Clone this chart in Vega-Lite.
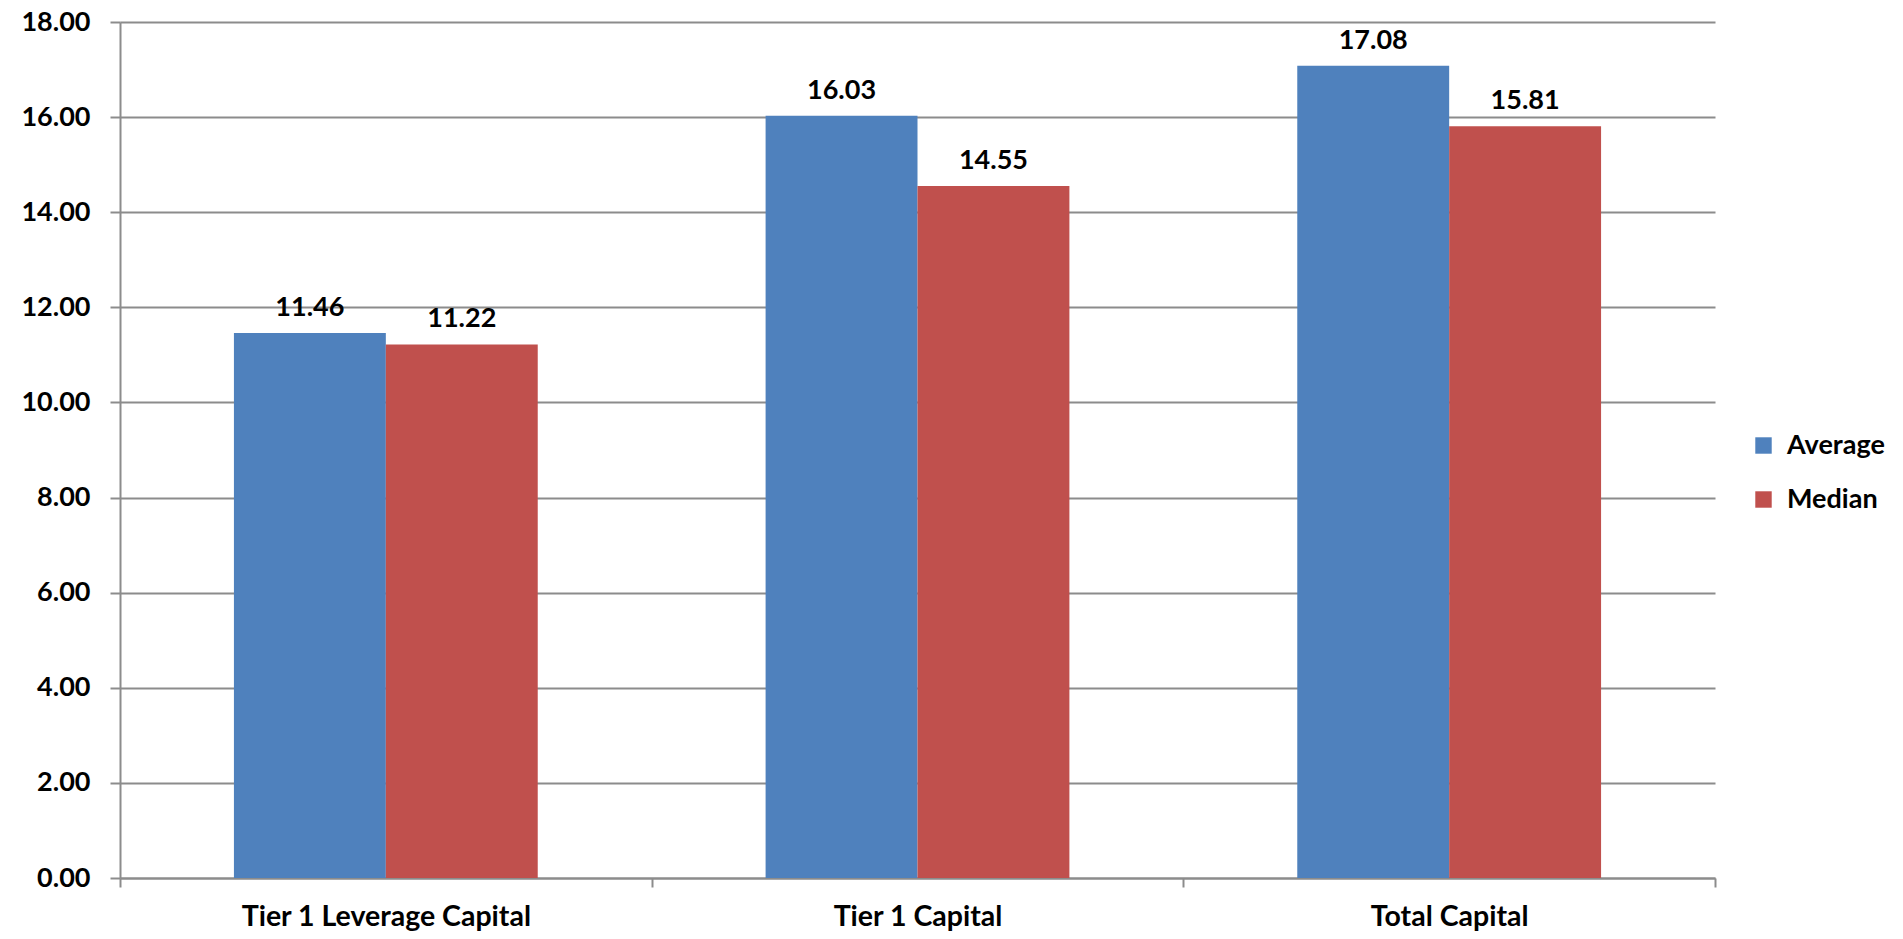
{
  "$schema": "https://vega.github.io/schema/vega-lite/v6.json",
  "width": 1595,
  "height": 856,
  "autosize": {"type": "none"},
  "padding": {"left": 120, "top": 22, "right": 188, "bottom": 61},
  "background": "white",
  "data": {
    "values": [
      {"category": "Tier 1 Leverage Capital", "series": "Average", "value": 11.46},
      {"category": "Tier 1 Leverage Capital", "series": "Median", "value": 11.22},
      {"category": "Tier 1 Capital", "series": "Average", "value": 16.03},
      {"category": "Tier 1 Capital", "series": "Median", "value": 14.55},
      {"category": "Total Capital", "series": "Average", "value": 17.08},
      {"category": "Total Capital", "series": "Median", "value": 15.81}
    ]
  },
  "encoding": {
    "x": {
      "field": "category",
      "type": "nominal",
      "sort": ["Tier 1 Leverage Capital", "Tier 1 Capital", "Total Capital"],
      "scale": {"paddingInner": 0, "paddingOuter": 0},
      "axis": {
        "title": null,
        "labelAngle": 0,
        "labelLimit": 0,
        "tickBand": "extent",
        "grid": false,
        "domainColor": "#8c8c8c",
        "domainWidth": 2,
        "tickColor": "#8c8c8c",
        "tickWidth": 2,
        "tickSize": 9,
        "labelPadding": 15,
        "labelFont": "Lato",
        "labelFontWeight": "bold",
        "labelFontSize": 28.5,
        "labelColor": "#000000"
      }
    },
    "xOffset": {
      "field": "series",
      "sort": ["Average", "Median"],
      "scale": {"paddingInner": 0, "paddingOuter": 0.75}
    },
    "y": {
      "field": "value",
      "type": "quantitative",
      "scale": {"domain": [0, 18], "nice": false},
      "axis": {
        "title": null,
        "values": [0, 2, 4, 6, 8, 10, 12, 14, 16, 18],
        "format": ".2f",
        "grid": true,
        "gridColor": "#8c8c8c",
        "gridWidth": 2,
        "domainColor": "#8c8c8c",
        "domainWidth": 2,
        "tickColor": "#8c8c8c",
        "tickWidth": 2,
        "tickSize": 10,
        "labelPadding": 20,
        "labelFont": "Lato",
        "labelFontWeight": "bold",
        "labelFontSize": 27,
        "labelColor": "#000000"
      }
    }
  },
  "layer": [
    {
      "mark": {"type": "bar"},
      "encoding": {
        "color": {
          "field": "series",
          "type": "nominal",
          "scale": {"domain": ["Average", "Median"], "range": ["#4F81BD", "#C0504D"]},
          "legend": {
            "title": null,
            "orient": "none",
            "legendX": 1630,
            "legendY": 410,
            "symbolType": "square",
            "symbolSize": 270,
            "symbolStrokeWidth": 0,
            "rowPadding": 26,
            "labelFont": "Lato",
            "labelFontWeight": "bold",
            "labelFontSize": 27,
            "labelColor": "#000000",
            "labelOffset": 10
          }
        }
      }
    },
    {
      "mark": {
        "type": "text",
        "baseline": "alphabetic",
        "dy": -17,
        "font": "Lato",
        "fontWeight": "bold",
        "fontSize": 27,
        "color": "#000000"
      },
      "encoding": {
        "text": {"field": "value", "type": "quantitative", "format": ".2f"}
      }
    }
  ],
  "config": {
    "view": {"stroke": null}
  }
}
